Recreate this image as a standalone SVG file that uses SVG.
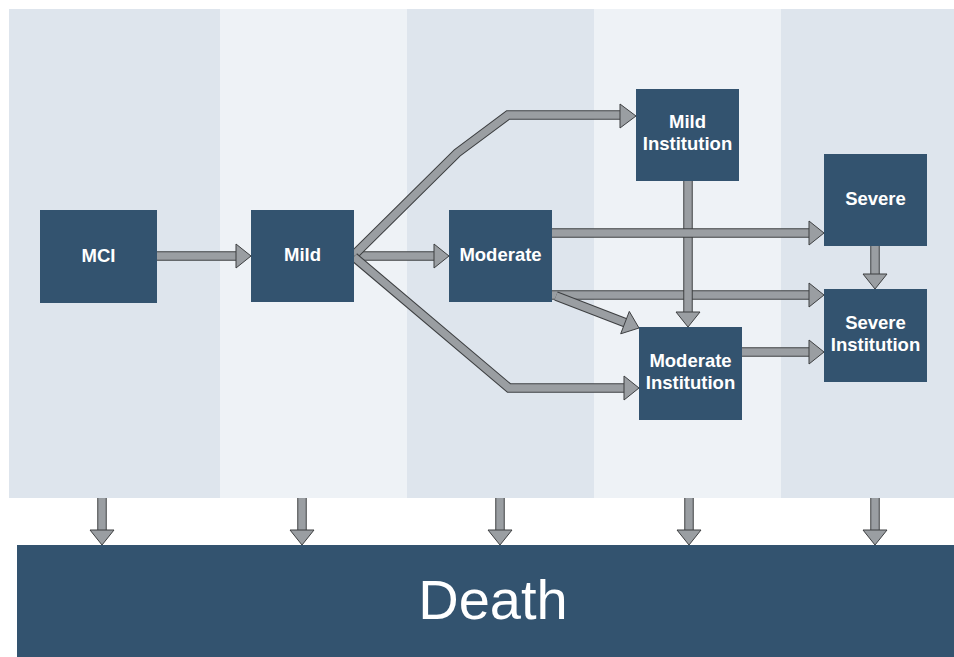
<svg xmlns="http://www.w3.org/2000/svg" width="954" height="657" viewBox="0 0 954 657">
<style>
.band1{fill:#dee5ed}
.band2{fill:#eef2f6}
.node{fill:#33536f}
.lbl{font-family:"Liberation Sans",Arial,sans-serif;font-weight:bold;font-size:18.5px;fill:#ffffff;text-anchor:middle}
.death{font-family:"Liberation Sans",Arial,sans-serif;font-size:56px;fill:#ffffff;text-anchor:middle}
.o{fill:none;stroke:#3d3f41;stroke-width:9.5;stroke-linejoin:miter}
.i{fill:none;stroke:#9a9ea2;stroke-width:7.5;stroke-linejoin:miter}
.h{fill:#9a9ea2;stroke:#3d3f41;stroke-width:1;stroke-linejoin:miter}
</style>
<rect x="0" y="0" width="954" height="657" fill="#ffffff"/>
<g id="bands">
<rect class="band1" x="9" y="9" width="211" height="489"/>
<rect class="band2" x="220" y="9" width="187" height="489"/>
<rect class="band1" x="407" y="9" width="187" height="489"/>
<rect class="band2" x="594" y="9" width="187" height="489"/>
<rect class="band1" x="781" y="9" width="173" height="489"/>
</g>
<g id="connectors">
<g id="mci-mild"><path class="o" d="M157,256 H237"/><path class="i" d="M157,256 H237"/><polygon class="h" points="236,244 251,256 236,268"/></g>
<g id="mild-moderate"><path class="o" d="M354,256 H435"/><path class="i" d="M354,256 H435"/><polygon class="h" points="434,244 449,256 434,268"/></g>
<g id="mild-mildinst"><path class="o" d="M354,255 L457,153 L508,115 H621"/><path class="i" d="M354,255 L457,153 L508,115 H621"/><polygon class="h" points="620,104 636,116 620,128"/></g>
<g id="mild-modinst"><path class="o" d="M354,257 L509,388 H625"/><path class="i" d="M354,257 L509,388 H625"/><polygon class="h" points="624,376 639,388 624,400"/></g>
<g id="moderate-severeinst"><path class="o" d="M552,295 H810"/><path class="i" d="M552,295 H810"/><polygon class="h" points="809,283 824,295 809,307"/></g>
<g id="mildinst-modinst"><path class="o" d="M688,181 V313"/><path class="i" d="M688,181 V313"/><polygon class="h" points="676,312 688,327 700,312"/></g>
<g id="moderate-severe"><path class="o" d="M552,233 H810"/><path class="i" d="M552,233 H810"/><polygon class="h" points="809,221 824,233 809,245"/></g>
<g id="moderate-modinst"><path class="o" d="M556,296 L626,323"/><path class="i" d="M556,296 L626,323"/><polygon class="h" points="629.3,311.4 639,328 620.7,333.8"/></g>
<g id="severe-severeinst"><path class="o" d="M875,246 V275"/><path class="i" d="M875,246 V275"/><polygon class="h" points="863,274 875,289 887,274"/></g>
<g id="modinst-severeinst"><path class="o" d="M742,352 H810"/><path class="i" d="M742,352 H810"/><polygon class="h" points="809,340 824,352 809,364"/></g>
<g id="death-arrows">
<path class="o" d="M102,498 V531"/><path class="i" d="M102,498 V531"/><polygon class="h" points="90,530 102,545 114,530"/>
<path class="o" d="M302,498 V531"/><path class="i" d="M302,498 V531"/><polygon class="h" points="290,530 302,545 314,530"/>
<path class="o" d="M500,498 V531"/><path class="i" d="M500,498 V531"/><polygon class="h" points="488,530 500,545 512,530"/>
<path class="o" d="M689,498 V531"/><path class="i" d="M689,498 V531"/><polygon class="h" points="677,530 689,545 701,530"/>
<path class="o" d="M875,498 V531"/><path class="i" d="M875,498 V531"/><polygon class="h" points="863,530 875,545 887,530"/>
</g>
</g>
<g id="mci"><rect class="node" x="40" y="210" width="117" height="93"/><text class="lbl" x="98.5" y="261.5">MCI</text></g>
<g id="mild"><rect class="node" x="251" y="210" width="103" height="92"/><text class="lbl" x="302.5" y="260.5">Mild</text></g>
<g id="moderate"><rect class="node" x="449" y="210" width="103" height="92"/><text class="lbl" x="500.5" y="260.5">Moderate</text></g>
<g id="mild-institution"><rect class="node" x="636" y="89" width="103" height="92"/><text class="lbl" x="687.5" y="128">Mild</text><text class="lbl" x="687.5" y="150">Institution</text></g>
<g id="severe"><rect class="node" x="824" y="154" width="103" height="92"/><text class="lbl" x="875.5" y="205">Severe</text></g>
<g id="severe-institution"><rect class="node" x="824" y="289" width="103" height="93"/><text class="lbl" x="875.5" y="329">Severe</text><text class="lbl" x="875.5" y="351">Institution</text></g>
<g id="moderate-institution"><rect class="node" x="639" y="327" width="103" height="93"/><text class="lbl" x="690.5" y="367">Moderate</text><text class="lbl" x="690.5" y="389">Institution</text></g>
<g id="death"><rect class="node" x="17" y="545" width="937" height="112"/><text class="death" x="493" y="619">Death</text></g>
</svg>
